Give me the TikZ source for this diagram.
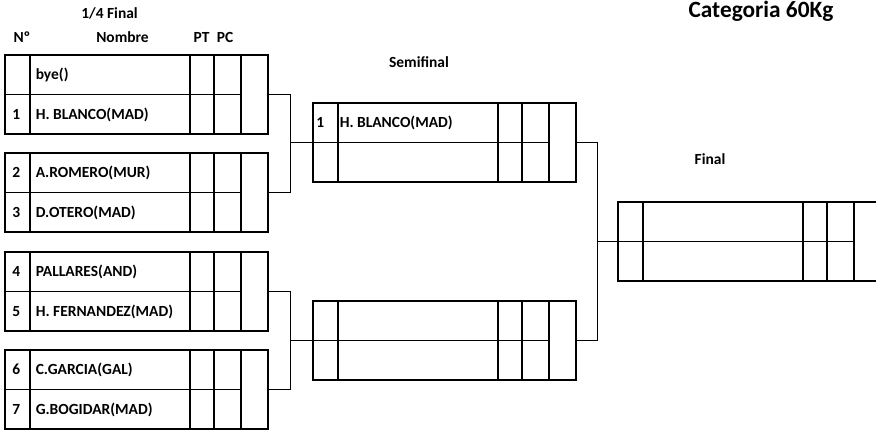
\documentclass[tikz,border=0pt]{standalone}
\usepackage{fontspec}
\setmainfont{Carlito}
\usetikzlibrary{calc}
\tikzset{
  boxline/.style={line width=1.2pt},
  link/.style={line width=0.6pt},
  seed/.style={anchor=base west, inner sep=0pt},
  head/.style={anchor=base, inner sep=0pt},
  match/.pic={
    \draw[boxline] (0,0) rectangle (263,79);
    \draw[boxline] (0,39.5) -- (236,39.5);
    \foreach \x in {25,185,209,236}
      \draw[boxline] (\x,0) -- (\x,79);
    \coordinate (-in) at (0,39.5);
    \coordinate (-out) at (263,39.5);
    \coordinate (-a) at (7,24.75);
    \coordinate (-b) at (7,64.25);
    \coordinate (-na) at (30.5,24.75);
    \coordinate (-nb) at (30.5,64.25);
  }
}

\begin{document}
\begin{tikzpicture}[x=0.75pt, y=-0.75pt, font=\fontsize{11.6}{14}\selectfont\bfseries]
        \useasboundingbox (0,0) rectangle (876,432);
        \clip (0,0) rectangle (876,432);
        % headings
        \node[head, font=\fontsize{17.5}{21}\selectfont\bfseries] (title) at (761,17) {Categoria 60Kg};
        \node[head] (qf) at (109.5,18) {1/4 Final};
        \node[head] (nr) at (22,42) {Nº};
        \node[head] (nombre) at (122.5,42) {Nombre};
        \node[head] (pt) at (201.5,42) {PT};
        \node[head] (pc) at (225,42) {PC};
        \node[head] (sf) at (419,67) {Semifinal};
        \node[head] (fin) at (710,164) {Final};
        % boxes
        \pic (qa) at (5,55) {match};
        \pic (qb) at (5,153) {match};
        \pic (qc) at (5,252) {match};
        \pic (qd) at (5,350) {match};
        \pic (sa) at (313,103) {match};
        \pic (sb) at (313,301) {match};
        \pic (fa) at (618,202) {match};
        % players
        \node[seed] (qa-p1) at (qa-na) {bye()};
        \node[seed] (qa-s2) at (qa-b) {1};
        \node[seed] (qa-p2) at (qa-nb) {H. BLANCO(MAD)};
        \node[seed] (qb-s1) at (qb-a) {2};
        \node[seed] (qb-p1) at (qb-na) {A.ROMERO(MUR)};
        \node[seed] (qb-s2) at (qb-b) {3};
        \node[seed] (qb-p2) at (qb-nb) {D.OTERO(MAD)};
        \node[seed] (qc-s1) at (qc-a) {4};
        \node[seed] (qc-p1) at (qc-na) {PALLARES(AND)};
        \node[seed] (qc-s2) at (qc-b) {5};
        \node[seed] (qc-p2) at (qc-nb) {H. FERNANDEZ(MAD)};
        \node[seed] (qd-s1) at (qd-a) {6};
        \node[seed] (qd-p1) at (qd-na) {C.GARCIA(GAL)};
        \node[seed] (qd-s2) at (qd-b) {7};
        \node[seed] (qd-p2) at (qd-nb) {G.BOGIDAR(MAD)};
        \node[seed] (sa-s1) at ([xshift=-3pt]sa-a) {1};
        \node[seed] (sa-p1) at ([xshift=-3pt]sa-na) {H. BLANCO(MAD)};
        % connectors
        \draw[link] (qa-out) -- ++(22.5,0) |- (qb-out);
        \draw[link] (qc-out) -- ++(22.5,0) |- (qd-out);
        \draw[link] (sa-in) -- ++(-22,0);
        \draw[link] (sb-in) -- ++(-22,0);
        \draw[link] (sa-out) -- ++(21,0) |- (sb-out);
        \draw[link] (fa-in) -- ++(-21,0);
    \end{tikzpicture}
\end{document}
